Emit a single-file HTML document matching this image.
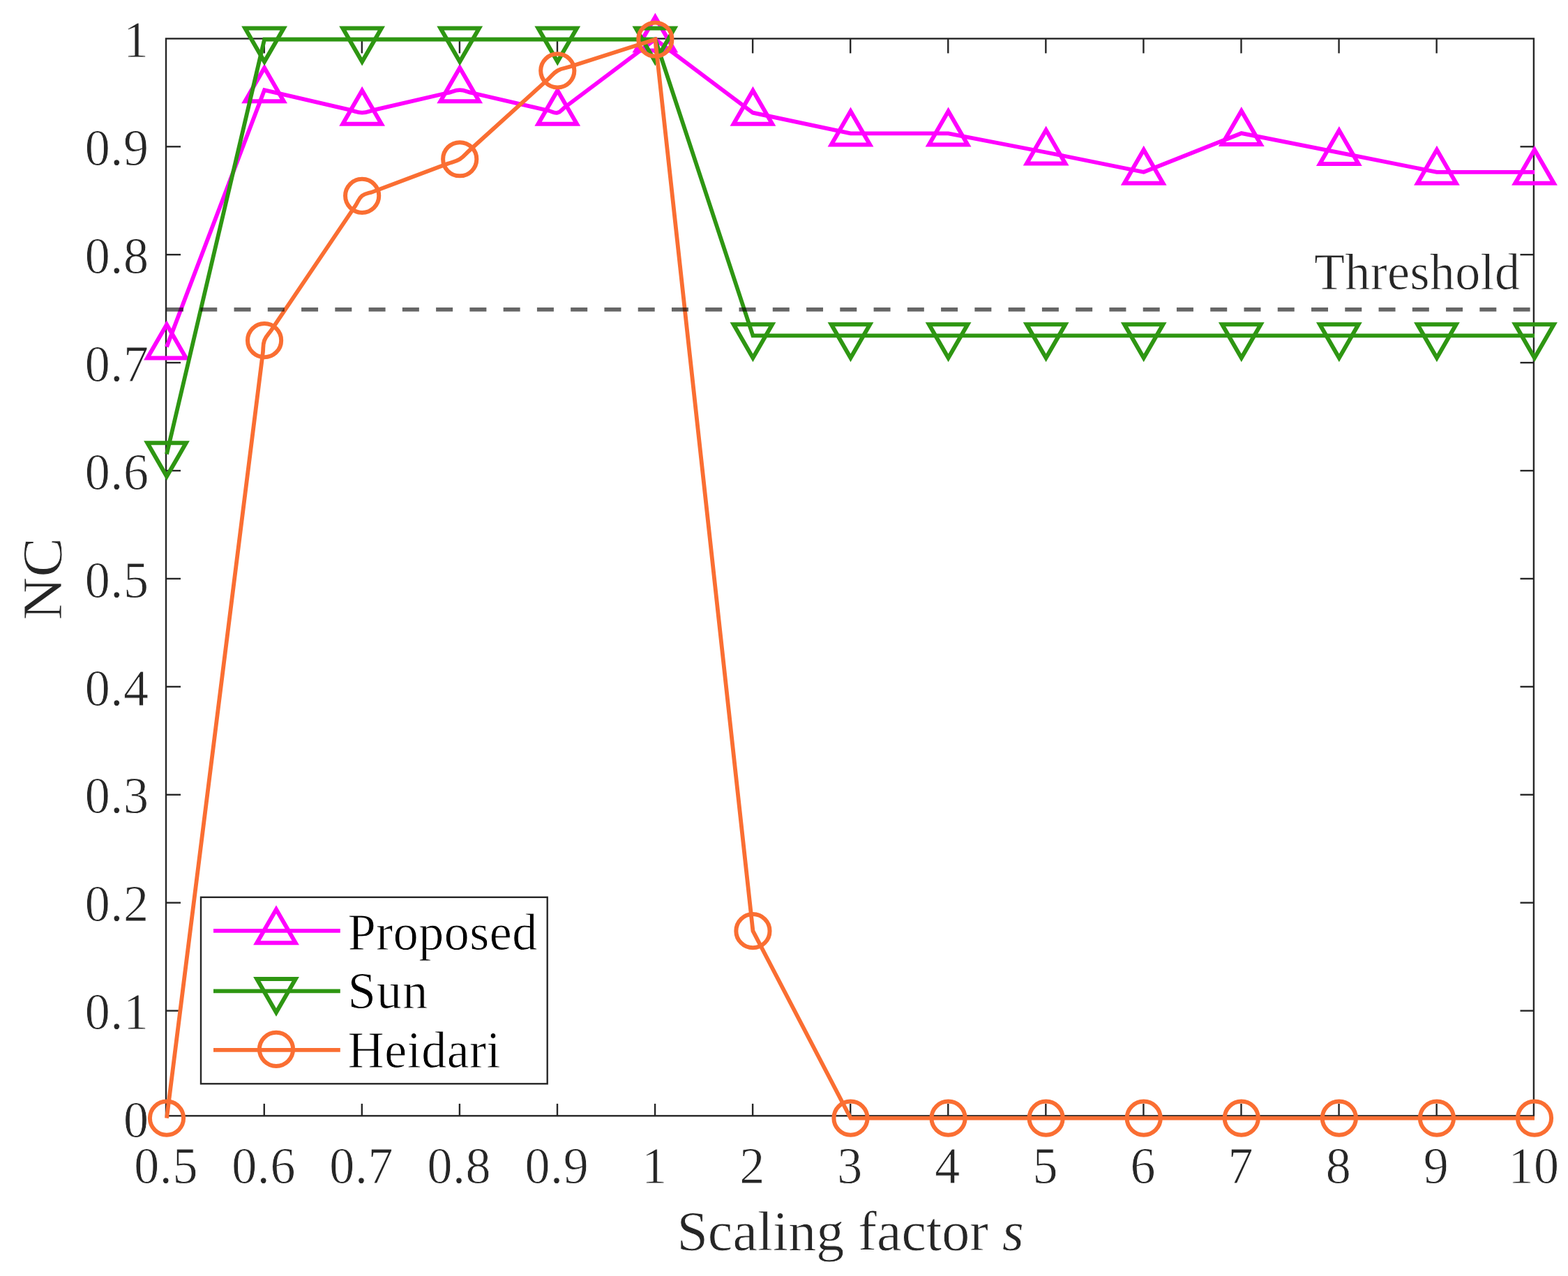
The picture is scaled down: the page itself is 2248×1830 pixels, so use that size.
<!DOCTYPE html>
<html><head><meta charset="utf-8"><title>NC vs Scaling factor</title>
<style>html,body{margin:0;padding:0;background:#fff;}body{width:2248px;height:1830px;}svg{display:block;}</style>
</head><body>
<svg xmlns="http://www.w3.org/2000/svg" width="2248" height="1830" viewBox="0 0 2248 1830">
<rect width="2248" height="1830" fill="#fff"/>
<g stroke="#262626" stroke-width="2.4" fill="none">
<rect x="238.0" y="55.4" width="1960.90" height="1544.90"/>
<line x1="378.77" y1="1600.3" x2="378.77" y2="1582.90"/>
<line x1="378.77" y1="55.4" x2="378.77" y2="76.4"/>
<line x1="518.84" y1="1600.3" x2="518.84" y2="1582.90"/>
<line x1="518.84" y1="55.4" x2="518.84" y2="76.4"/>
<line x1="658.91" y1="1600.3" x2="658.91" y2="1582.90"/>
<line x1="658.91" y1="55.4" x2="658.91" y2="76.4"/>
<line x1="798.99" y1="1600.3" x2="798.99" y2="1582.90"/>
<line x1="798.99" y1="55.4" x2="798.99" y2="76.4"/>
<line x1="939.06" y1="1600.3" x2="939.06" y2="1582.90"/>
<line x1="939.06" y1="55.4" x2="939.06" y2="76.4"/>
<line x1="1079.13" y1="1600.3" x2="1079.13" y2="1582.90"/>
<line x1="1079.13" y1="55.4" x2="1079.13" y2="76.4"/>
<line x1="1219.20" y1="1600.3" x2="1219.20" y2="1582.90"/>
<line x1="1219.20" y1="55.4" x2="1219.20" y2="76.4"/>
<line x1="1359.27" y1="1600.3" x2="1359.27" y2="1582.90"/>
<line x1="1359.27" y1="55.4" x2="1359.27" y2="76.4"/>
<line x1="1499.34" y1="1600.3" x2="1499.34" y2="1582.90"/>
<line x1="1499.34" y1="55.4" x2="1499.34" y2="76.4"/>
<line x1="1639.41" y1="1600.3" x2="1639.41" y2="1582.90"/>
<line x1="1639.41" y1="55.4" x2="1639.41" y2="76.4"/>
<line x1="1779.49" y1="1600.3" x2="1779.49" y2="1582.90"/>
<line x1="1779.49" y1="55.4" x2="1779.49" y2="76.4"/>
<line x1="1919.56" y1="1600.3" x2="1919.56" y2="1582.90"/>
<line x1="1919.56" y1="55.4" x2="1919.56" y2="76.4"/>
<line x1="2059.63" y1="1600.3" x2="2059.63" y2="1582.90"/>
<line x1="2059.63" y1="55.4" x2="2059.63" y2="76.4"/>
<line x1="238.0" y1="1449.59" x2="259.0" y2="1449.59"/>
<line x1="2198.9" y1="1449.59" x2="2179.50" y2="1449.59"/>
<line x1="238.0" y1="1294.68" x2="259.0" y2="1294.68"/>
<line x1="2198.9" y1="1294.68" x2="2179.50" y2="1294.68"/>
<line x1="238.0" y1="1139.77" x2="259.0" y2="1139.77"/>
<line x1="2198.9" y1="1139.77" x2="2179.50" y2="1139.77"/>
<line x1="238.0" y1="984.86" x2="259.0" y2="984.86"/>
<line x1="2198.9" y1="984.86" x2="2179.50" y2="984.86"/>
<line x1="238.0" y1="829.95" x2="259.0" y2="829.95"/>
<line x1="2198.9" y1="829.95" x2="2179.50" y2="829.95"/>
<line x1="238.0" y1="675.04" x2="259.0" y2="675.04"/>
<line x1="2198.9" y1="675.04" x2="2179.50" y2="675.04"/>
<line x1="238.0" y1="520.13" x2="259.0" y2="520.13"/>
<line x1="2198.9" y1="520.13" x2="2179.50" y2="520.13"/>
<line x1="238.0" y1="365.22" x2="259.0" y2="365.22"/>
<line x1="2198.9" y1="365.22" x2="2179.50" y2="365.22"/>
<line x1="238.0" y1="210.31" x2="259.0" y2="210.31"/>
<line x1="2198.9" y1="210.31" x2="2179.50" y2="210.31"/>
</g>
<g font-family="'Liberation Serif', serif" font-size="72" fill="#262626" stroke="#fff" stroke-width="0.8">
<text transform="translate(238.10,1696.8) scale(1,1.03)" text-anchor="middle" letter-spacing="0.6">0.5</text>
<text transform="translate(378.17,1696.8) scale(1,1.03)" text-anchor="middle" letter-spacing="0.6">0.6</text>
<text transform="translate(518.24,1696.8) scale(1,1.03)" text-anchor="middle" letter-spacing="0.6">0.7</text>
<text transform="translate(658.31,1696.8) scale(1,1.03)" text-anchor="middle" letter-spacing="0.6">0.8</text>
<text transform="translate(798.39,1696.8) scale(1,1.03)" text-anchor="middle" letter-spacing="0.6">0.9</text>
<text transform="translate(938.46,1696.8) scale(1,1.03)" text-anchor="middle" letter-spacing="0.6">1</text>
<text transform="translate(1078.53,1696.8) scale(1,1.03)" text-anchor="middle" letter-spacing="0.6">2</text>
<text transform="translate(1218.60,1696.8) scale(1,1.03)" text-anchor="middle" letter-spacing="0.6">3</text>
<text transform="translate(1358.67,1696.8) scale(1,1.03)" text-anchor="middle" letter-spacing="0.6">4</text>
<text transform="translate(1498.74,1696.8) scale(1,1.03)" text-anchor="middle" letter-spacing="0.6">5</text>
<text transform="translate(1638.81,1696.8) scale(1,1.03)" text-anchor="middle" letter-spacing="0.6">6</text>
<text transform="translate(1778.89,1696.8) scale(1,1.03)" text-anchor="middle" letter-spacing="0.6">7</text>
<text transform="translate(1918.96,1696.8) scale(1,1.03)" text-anchor="middle" letter-spacing="0.6">8</text>
<text transform="translate(2059.03,1696.8) scale(1,1.03)" text-anchor="middle" letter-spacing="0.6">9</text>
<text transform="translate(2199.10,1696.8) scale(1,1.03)" text-anchor="middle" letter-spacing="0.6">10</text>
<text transform="translate(213.5,1631.20) scale(1,1.03)" text-anchor="end" letter-spacing="0.6">0</text>
<text transform="translate(213.5,1476.29) scale(1,1.03)" text-anchor="end" letter-spacing="0.6">0.1</text>
<text transform="translate(213.5,1321.38) scale(1,1.03)" text-anchor="end" letter-spacing="0.6">0.2</text>
<text transform="translate(213.5,1166.47) scale(1,1.03)" text-anchor="end" letter-spacing="0.6">0.3</text>
<text transform="translate(213.5,1011.56) scale(1,1.03)" text-anchor="end" letter-spacing="0.6">0.4</text>
<text transform="translate(213.5,856.65) scale(1,1.03)" text-anchor="end" letter-spacing="0.6">0.5</text>
<text transform="translate(213.5,701.74) scale(1,1.03)" text-anchor="end" letter-spacing="0.6">0.6</text>
<text transform="translate(213.5,546.83) scale(1,1.03)" text-anchor="end" letter-spacing="0.6">0.7</text>
<text transform="translate(213.5,391.92) scale(1,1.03)" text-anchor="end" letter-spacing="0.6">0.8</text>
<text transform="translate(213.5,237.01) scale(1,1.03)" text-anchor="end" letter-spacing="0.6">0.9</text>
<text transform="translate(213.5,82.10) scale(1,1.03)" text-anchor="end" letter-spacing="0.6">1</text>
<text x="1219.2" y="1792.5" text-anchor="middle" font-size="80">Scaling factor <tspan font-style="italic">s</tspan></text>
<text transform="translate(87.6,830.2) rotate(-90) scale(1,1.015)" text-anchor="middle" font-size="80" textLength="118.8" lengthAdjust="spacingAndGlyphs">NC</text>
<text transform="translate(2179.4,414.8) scale(1,1.03)" text-anchor="end" letter-spacing="0.4">Threshold</text>
</g>
<path d="M239.00,497.42 L379.07,129.21 L501.65,157.65 C508.65,159.27 511.96,161.70 519.14,161.70 C526.33,161.70 529.64,159.27 536.64,157.65 L641.72,133.27 C648.72,131.65 652.03,129.21 659.21,129.21 C666.40,129.21 669.71,131.65 676.71,133.27 L786.75,158.80 C791.77,159.96 794.25,162.77 799.29,161.70 C804.32,160.64 805.46,157.07 809.57,153.98 L939.36,56.50 L1079.43,161.70 L1219.50,191.41 L1359.57,191.41 L1499.64,218.48 L1639.71,246.79 L1779.79,191.10 L1919.86,218.95 L2059.93,246.79 L2200.00,246.79" fill="none" stroke="#ff00ff" stroke-width="5.8" stroke-linejoin="miter" stroke-miterlimit="3"/>
<polygon points="239.00,465.42 266.71,513.42 211.29,513.42" fill="none" stroke="#ff00ff" stroke-width="6.0" stroke-linejoin="miter"/>
<polygon points="379.07,97.21 406.78,145.21 351.36,145.21" fill="none" stroke="#ff00ff" stroke-width="6.0" stroke-linejoin="miter"/>
<polygon points="519.14,129.70 546.85,177.70 491.43,177.70" fill="none" stroke="#ff00ff" stroke-width="6.0" stroke-linejoin="miter"/>
<polygon points="659.21,97.21 686.93,145.21 631.50,145.21" fill="none" stroke="#ff00ff" stroke-width="6.0" stroke-linejoin="miter"/>
<polygon points="799.29,129.70 827.00,177.70 771.57,177.70" fill="none" stroke="#ff00ff" stroke-width="6.0" stroke-linejoin="miter"/>
<polygon points="939.36,24.50 967.07,72.50 911.65,72.50" fill="none" stroke="#ff00ff" stroke-width="6.0" stroke-linejoin="miter"/>
<polygon points="1079.43,129.70 1107.14,177.70 1051.72,177.70" fill="none" stroke="#ff00ff" stroke-width="6.0" stroke-linejoin="miter"/>
<polygon points="1219.50,159.41 1247.21,207.41 1191.79,207.41" fill="none" stroke="#ff00ff" stroke-width="6.0" stroke-linejoin="miter"/>
<polygon points="1359.57,159.41 1387.28,207.41 1331.86,207.41" fill="none" stroke="#ff00ff" stroke-width="6.0" stroke-linejoin="miter"/>
<polygon points="1499.64,186.48 1527.35,234.48 1471.93,234.48" fill="none" stroke="#ff00ff" stroke-width="6.0" stroke-linejoin="miter"/>
<polygon points="1639.71,214.79 1667.43,262.79 1612.00,262.79" fill="none" stroke="#ff00ff" stroke-width="6.0" stroke-linejoin="miter"/>
<polygon points="1779.79,159.10 1807.50,207.10 1752.07,207.10" fill="none" stroke="#ff00ff" stroke-width="6.0" stroke-linejoin="miter"/>
<polygon points="1919.86,186.95 1947.57,234.95 1892.15,234.95" fill="none" stroke="#ff00ff" stroke-width="6.0" stroke-linejoin="miter"/>
<polygon points="2059.93,214.79 2087.64,262.79 2032.22,262.79" fill="none" stroke="#ff00ff" stroke-width="6.0" stroke-linejoin="miter"/>
<polygon points="2200.00,214.79 2227.71,262.79 2172.29,262.79" fill="none" stroke="#ff00ff" stroke-width="6.0" stroke-linejoin="miter"/>
<path d="M239.00,651.36 L379.07,56.50 L519.14,56.50 L659.21,56.50 L799.29,56.50 L939.36,56.50 L1079.43,481.33 L1219.50,481.33 L1359.57,481.33 L1499.64,481.33 L1639.71,481.33 L1779.79,481.33 L1919.86,481.33 L2059.93,481.33 L2200.00,481.33" fill="none" stroke="#2e9612" stroke-width="5.8" stroke-linejoin="miter" stroke-miterlimit="3"/>
<polygon points="239.00,683.36 266.71,635.36 211.29,635.36" fill="none" stroke="#2e9612" stroke-width="6.0" stroke-linejoin="miter"/>
<polygon points="379.07,88.50 406.78,40.50 351.36,40.50" fill="none" stroke="#2e9612" stroke-width="6.0" stroke-linejoin="miter"/>
<polygon points="519.14,88.50 546.85,40.50 491.43,40.50" fill="none" stroke="#2e9612" stroke-width="6.0" stroke-linejoin="miter"/>
<polygon points="659.21,88.50 686.93,40.50 631.50,40.50" fill="none" stroke="#2e9612" stroke-width="6.0" stroke-linejoin="miter"/>
<polygon points="799.29,88.50 827.00,40.50 771.57,40.50" fill="none" stroke="#2e9612" stroke-width="6.0" stroke-linejoin="miter"/>
<polygon points="939.36,88.50 967.07,40.50 911.65,40.50" fill="none" stroke="#2e9612" stroke-width="6.0" stroke-linejoin="miter"/>
<polygon points="1079.43,513.33 1107.14,465.33 1051.72,465.33" fill="none" stroke="#2e9612" stroke-width="6.0" stroke-linejoin="miter"/>
<polygon points="1219.50,513.33 1247.21,465.33 1191.79,465.33" fill="none" stroke="#2e9612" stroke-width="6.0" stroke-linejoin="miter"/>
<polygon points="1359.57,513.33 1387.28,465.33 1331.86,465.33" fill="none" stroke="#2e9612" stroke-width="6.0" stroke-linejoin="miter"/>
<polygon points="1499.64,513.33 1527.35,465.33 1471.93,465.33" fill="none" stroke="#2e9612" stroke-width="6.0" stroke-linejoin="miter"/>
<polygon points="1639.71,513.33 1667.43,465.33 1612.00,465.33" fill="none" stroke="#2e9612" stroke-width="6.0" stroke-linejoin="miter"/>
<polygon points="1779.79,513.33 1807.50,465.33 1752.07,465.33" fill="none" stroke="#2e9612" stroke-width="6.0" stroke-linejoin="miter"/>
<polygon points="1919.86,513.33 1947.57,465.33 1892.15,465.33" fill="none" stroke="#2e9612" stroke-width="6.0" stroke-linejoin="miter"/>
<polygon points="2059.93,513.33 2087.64,465.33 2032.22,465.33" fill="none" stroke="#2e9612" stroke-width="6.0" stroke-linejoin="miter"/>
<polygon points="2200.00,513.33 2227.71,465.33 2172.29,465.33" fill="none" stroke="#2e9612" stroke-width="6.0" stroke-linejoin="miter"/>
<path d="M239.00,1603.60 L376.85,505.84 C377.74,498.76 376.56,494.82 379.07,488.14 C381.58,481.46 385.06,479.27 389.06,473.36 L510.01,294.34 C513.66,288.94 514.02,284.87 519.14,280.83 C524.26,276.79 528.30,277.39 534.41,275.10 L641.80,234.77 C648.77,232.15 652.86,232.10 659.21,228.23 C665.57,224.36 667.48,220.74 673.00,215.74 L785.79,113.59 C791.19,108.70 792.97,105.00 799.29,101.37 C805.60,97.73 809.69,98.03 816.63,95.81 L939.36,56.50 L1079.43,1335.18 L1219.50,1603.60 L1359.57,1603.60 L1499.64,1603.60 L1639.71,1603.60 L1779.79,1603.60 L1919.86,1603.60 L2059.93,1603.60 L2200.00,1603.60" fill="none" stroke="#fa6e32" stroke-width="5.8" stroke-linejoin="miter" stroke-miterlimit="3"/>
<circle cx="239.00" cy="1603.60" r="24.1" fill="none" stroke="#fa6e32" stroke-width="6.0"/>
<circle cx="379.07" cy="488.14" r="24.1" fill="none" stroke="#fa6e32" stroke-width="6.0"/>
<circle cx="519.14" cy="280.83" r="24.1" fill="none" stroke="#fa6e32" stroke-width="6.0"/>
<circle cx="659.21" cy="228.23" r="24.1" fill="none" stroke="#fa6e32" stroke-width="6.0"/>
<circle cx="799.29" cy="101.37" r="24.1" fill="none" stroke="#fa6e32" stroke-width="6.0"/>
<circle cx="939.36" cy="56.50" r="24.1" fill="none" stroke="#fa6e32" stroke-width="6.0"/>
<circle cx="1079.43" cy="1335.18" r="24.1" fill="none" stroke="#fa6e32" stroke-width="6.0"/>
<circle cx="1219.50" cy="1603.60" r="24.1" fill="none" stroke="#fa6e32" stroke-width="6.0"/>
<circle cx="1359.57" cy="1603.60" r="24.1" fill="none" stroke="#fa6e32" stroke-width="6.0"/>
<circle cx="1499.64" cy="1603.60" r="24.1" fill="none" stroke="#fa6e32" stroke-width="6.0"/>
<circle cx="1639.71" cy="1603.60" r="24.1" fill="none" stroke="#fa6e32" stroke-width="6.0"/>
<circle cx="1779.79" cy="1603.60" r="24.1" fill="none" stroke="#fa6e32" stroke-width="6.0"/>
<circle cx="1919.86" cy="1603.60" r="24.1" fill="none" stroke="#fa6e32" stroke-width="6.0"/>
<circle cx="2059.93" cy="1603.60" r="24.1" fill="none" stroke="#fa6e32" stroke-width="6.0"/>
<circle cx="2200.00" cy="1603.60" r="24.1" fill="none" stroke="#fa6e32" stroke-width="6.0"/>
<line x1="239.0" y1="443.90" x2="2200.0" y2="443.90" stroke="#000" stroke-opacity="0.6" stroke-width="5.8" stroke-dasharray="24,24.265" fill="none"/>
<rect x="288.0" y="1286.8" width="496.7" height="267.5" fill="#fff" stroke="#262626" stroke-width="2.4"/>
<line x1="306.0" y1="1334.8" x2="487.8" y2="1334.8" stroke="#ff00ff" stroke-width="5.8"/>
<polygon points="396.00,1304.20 423.71,1352.20 368.29,1352.20" fill="none" stroke="#ff00ff" stroke-width="6.0" stroke-linejoin="miter"/>
<text transform="translate(498.7,1362.2) scale(1,1.035)" font-family="'Liberation Serif', serif" font-size="72" letter-spacing="0.5" fill="#000" stroke="#fff" stroke-width="0.8">Proposed</text>
<line x1="306.0" y1="1421.3" x2="487.8" y2="1421.3" stroke="#2e9612" stroke-width="5.8"/>
<polygon points="396.00,1451.90 423.71,1403.90 368.29,1403.90" fill="none" stroke="#2e9612" stroke-width="6.0" stroke-linejoin="miter"/>
<text transform="translate(498.7,1446.3) scale(1,1.035)" font-family="'Liberation Serif', serif" font-size="72" letter-spacing="1.2" fill="#000" stroke="#fff" stroke-width="0.8">Sun</text>
<line x1="306.0" y1="1505.8" x2="487.8" y2="1505.8" stroke="#fa6e32" stroke-width="5.8"/>
<circle cx="396.00" cy="1504.80" r="24.1" fill="none" stroke="#fa6e32" stroke-width="6.0"/>
<text transform="translate(498.7,1531.4) scale(1,1.035)" font-family="'Liberation Serif', serif" font-size="72" letter-spacing="0.5" fill="#000" stroke="#fff" stroke-width="0.8">Heidari</text>
</svg>
</body></html>
